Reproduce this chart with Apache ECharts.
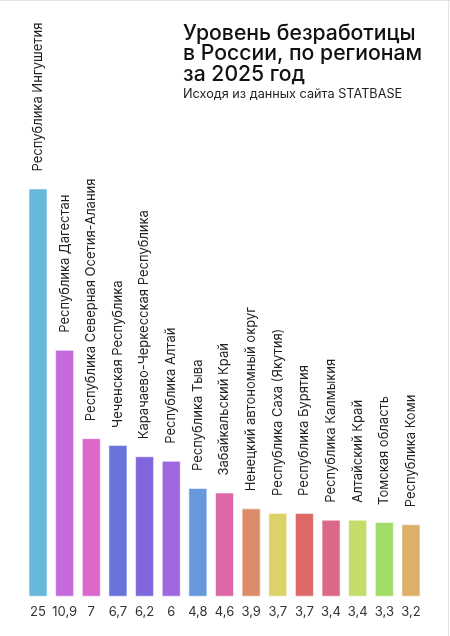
<!DOCTYPE html>
<html>
<head>
<meta charset="utf-8">
<script src="https://cdn.jsdelivr.net/npm/echarts@6/dist/echarts.min.js"></script>
<style>
html,body{margin:0;padding:0;background:#fff;}
#chart{width:450px;height:636px;}
.edge{position:absolute;background:#e3e3e3;}
</style>
</head>
<body>
<div id="chart"></div>
<div class="edge" style="left:0;top:0;width:450px;height:1px;"></div>
<div class="edge" style="left:448px;top:0;width:1px;height:636px;"></div>
<script>
const regions = [
  'Республика Ингушетия',
  'Республика Дагестан',
  'Республика Северная Осетия-Алания',
  'Чеченская Республика',
  'Карачаево-Черкесская Республика',
  'Республика Алтай',
  'Республика Тыва',
  'Забайкальский Край',
  'Ненецкий автономный округ',
  'Республика Саха (Якутия)',
  'Республика Бурятия',
  'Республика Калмыкия',
  'Алтайский Край',
  'Томская область',
  'Республика Коми'
];
const unemployment = [25, 10.9, 7, 6.7, 6.2, 6, 4.8, 4.6, 3.9, 3.7, 3.7, 3.4, 3.4, 3.3, 3.2];
const barColors = ['#68B8DC','#C46ADC','#DD68CC','#6873DC','#8068DC','#A068DF','#6898DC','#DC68A8','#DC8C68','#DCD26A','#DC6868','#DC6888','#C4DC6A','#A2DC68','#DCB068'];

const chart = echarts.init(document.getElementById('chart'));
chart.setOption({
  backgroundColor: '#fff',
  animation: false,
  title: {
    text: 'Уровень безработицы\nв России, по регионам\nза 2025 год',
    subtext: 'Исходя из данных сайта STATBASE',
    left: 178,
    top: 18,
    itemGap: 2,
    textStyle: {fontFamily: 'Inter', fontSize: 21.2, lineHeight: 20.7, fontWeight: 500, color: '#111'},
    subtextStyle: {fontFamily: 'Inter', fontSize: 12.7, color: '#222'}
  },
  grid: {left: 24.7, right: 25.7, top: 189, bottom: 39.3, containLabel: false},
  xAxis: {
    type: 'category',
    data: regions,
    axisLine: {show: false},
    axisTick: {show: false},
    axisLabel: {
      interval: 0,
      margin: 9,
      fontFamily: 'Inter',
      fontSize: 13,
      color: '#333',
      formatter: (v, i) => String(unemployment[i]).replace('.', ',')
    }
  },
  yAxis: {
    type: 'value',
    min: 0,
    max: 18,
    show: false,
    splitLine: {show: false}
  },
  series: [{
    type: 'bar',
    barWidth: 19,
    clip: true,
    data: unemployment.map((v, i) => ({
      value: v,
      itemStyle: {color: barColors[i]}
    })),
    itemStyle: {borderColor: 'rgba(255,255,255,0.55)', borderWidth: 1},
    label: {
      show: true,
      position: 'top',
      rotate: 90,
      align: 'left',
      verticalAlign: 'middle',
      distance: 17,
      fontFamily: 'Inter',
      fontSize: 13,
      color: '#222',
      formatter: '{b}'
    }
  }]
});
</script>
</body>
</html>
